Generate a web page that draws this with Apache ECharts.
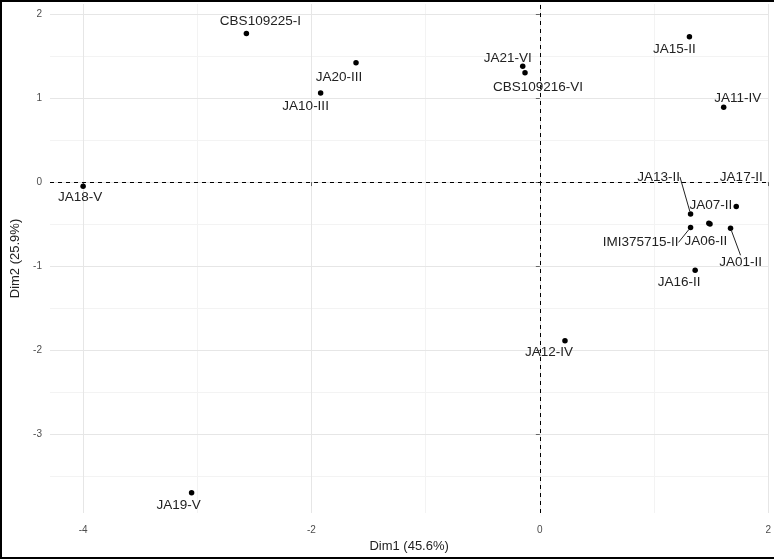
<!DOCTYPE html>
<html>
<head>
    <meta http-equiv="Content-Type" content="text/html; charset=utf-8" />
    <title></title>
    <script type="text/javascript" src="https://cdn.jsdelivr.net/npm/echarts@6/dist/echarts.min.js"></script>
    <style>
        html, body { margin: 0; padding: 0; background: #fff; }
        #chart { width: 774px; height: 559px; }
    </style>
</head>
<body>
    <div id="chart"></div>
    <script>
        // strains and their PCA coordinates
        var names = ["CBS109225-I", "JA20-III", "JA10-III", "JA21-VI", "CBS109216-VI", "JA15-II", "JA11-IV",
            "JA18-V", "JA19-V", "JA12-IV", "JA13-II", "JA17-II", "JA07-II", "IMI375715-II", "JA06-II", "JA01-II", "JA16-II"];
        var dim1 = [-2.57, -1.61, -1.92, -0.15, -0.13, 1.31, 1.61, -4.0, -3.05, 0.22, 1.32, 1.72, 1.48, 1.32, 1.49, 1.67, 1.36];
        var dim2 = [1.77, 1.42, 1.06, 1.38, 1.30, 1.73, 0.89, -0.05, -3.70, -1.89, -0.38, -0.29, -0.49, -0.54, -0.50, -0.55, -1.05];

        var xTicks = [-4, -2, 0, 2];
        var yTicks = [-3, -2, -1, 0, 1, 2];
        var xMinor = [-3, -1, 1];
        var yMinor = [1.5, 0.5, -0.5, -1.5, -2.5, -3.5];

        // repelled label offsets (px) and which ones get a leader line
        var labelDx = [14, -17, -15, -15, 13, -15, 14, -3, -13, -16, -32, 5, 2, -50, -4, 10, -16];
        var labelDy = [-12, 14, 13, -8, 14, 13, -9, 11, 12, 11, -37, -29, -18, 15, 17, 34, 12];
        var withLine = ["JA13-II", "IMI375715-II", "JA01-II"];

        var myChart = echarts.init(document.getElementById('chart'));

        var gridLines = [];
        xMinor.forEach(function (v) { gridLines.push({ xAxis: v, lineStyle: { color: "#f3f3f3" } }); });
        yMinor.forEach(function (v) { gridLines.push({ yAxis: v, lineStyle: { color: "#f3f3f3" } }); });
        xTicks.forEach(function (v) { gridLines.push({ xAxis: v, lineStyle: { color: "#e6e6e6" } }); });
        yTicks.forEach(function (v) { gridLines.push({ yAxis: v, lineStyle: { color: "#e6e6e6" } }); });

        var points = names.map(function (n, i) {
            var item = { name: n, value: [dim1[i], dim2[i]] };
            if (withLine.indexOf(n) >= 0) item.labelLine = { show: true };
            return item;
        });

        var axisText = { color: "#4d4d4d", fontSize: 10, fontFamily: "Liberation Sans" };
        var titleText = { color: "#222", fontSize: 13, fontFamily: "Liberation Sans" };

        var option = {
            animation: false,
            grid: { left: 50, right: 0, top: 4, bottom: 46 },
            xAxis: {
                type: "value",
                min: -4.29,
                max: 2.0,
                name: "Dim1 (45.6%)",
                nameLocation: "middle",
                nameGap: 27,
                nameTextStyle: titleText,
                axisLine: { show: false },
                axisTick: { show: true, length: 4, customValues: xTicks, lineStyle: { color: "#666" } },
                axisLabel: Object.assign({ customValues: xTicks, margin: 12 }, axisText),
                splitLine: { show: false }
            },
            yAxis: {
                type: "value",
                min: -3.94,
                max: 2.12,
                name: "Dim2 (25.9%)",
                nameLocation: "middle",
                nameGap: 28,
                nameTextStyle: titleText,
                axisLine: { show: false },
                axisTick: { show: true, length: 4, customValues: yTicks, lineStyle: { color: "#666" } },
                axisLabel: Object.assign({ customValues: yTicks, margin: 8 }, axisText),
                splitLine: { show: false }
            },
            graphic: [
                { type: "line", shape: { x1: 0, y1: 1, x2: 774, y2: 1 }, style: { stroke: "#000", lineWidth: 2 } },
                { type: "line", shape: { x1: 1, y1: 0, x2: 1, y2: 559 }, style: { stroke: "#000", lineWidth: 2 } },
                { type: "line", shape: { x1: 0, y1: 558, x2: 774, y2: 558 }, style: { stroke: "#000", lineWidth: 2 } }
            ],
            series: [
                {
                    type: "scatter",
                    data: [],
                    silent: true,
                    z: 0,
                    markLine: {
                        z: 0,
                        silent: true,
                        symbol: "none",
                        label: { show: false },
                        lineStyle: { type: "solid", width: 1 },
                        data: gridLines
                    }
                },
                {
                    type: "scatter",
                    data: points,
                    symbolSize: 5.5,
                    z: 3,
                    itemStyle: { color: "#000", opacity: 1 },
                    label: {
                        show: true,
                        position: "inside",
                        formatter: "{b}",
                        color: "#222",
                        fontSize: 13.5,
                        fontFamily: "Liberation Sans"
                    },
                    labelLine: { show: false, lineStyle: { color: "#222", width: 1 } },
                    labelLayout: function (params) {
                        return { dx: labelDx[params.dataIndex], dy: labelDy[params.dataIndex] };
                    },
                    markLine: {
                        z: 2,
                        silent: true,
                        symbol: "none",
                        label: { show: false },
                        lineStyle: { type: [4, 4], color: "#000", width: 1 },
                        data: [{ xAxis: 0 }, { yAxis: 0 }]
                    }
                }
            ]
        };
        myChart.setOption(option);
    </script>
</body>
</html>
